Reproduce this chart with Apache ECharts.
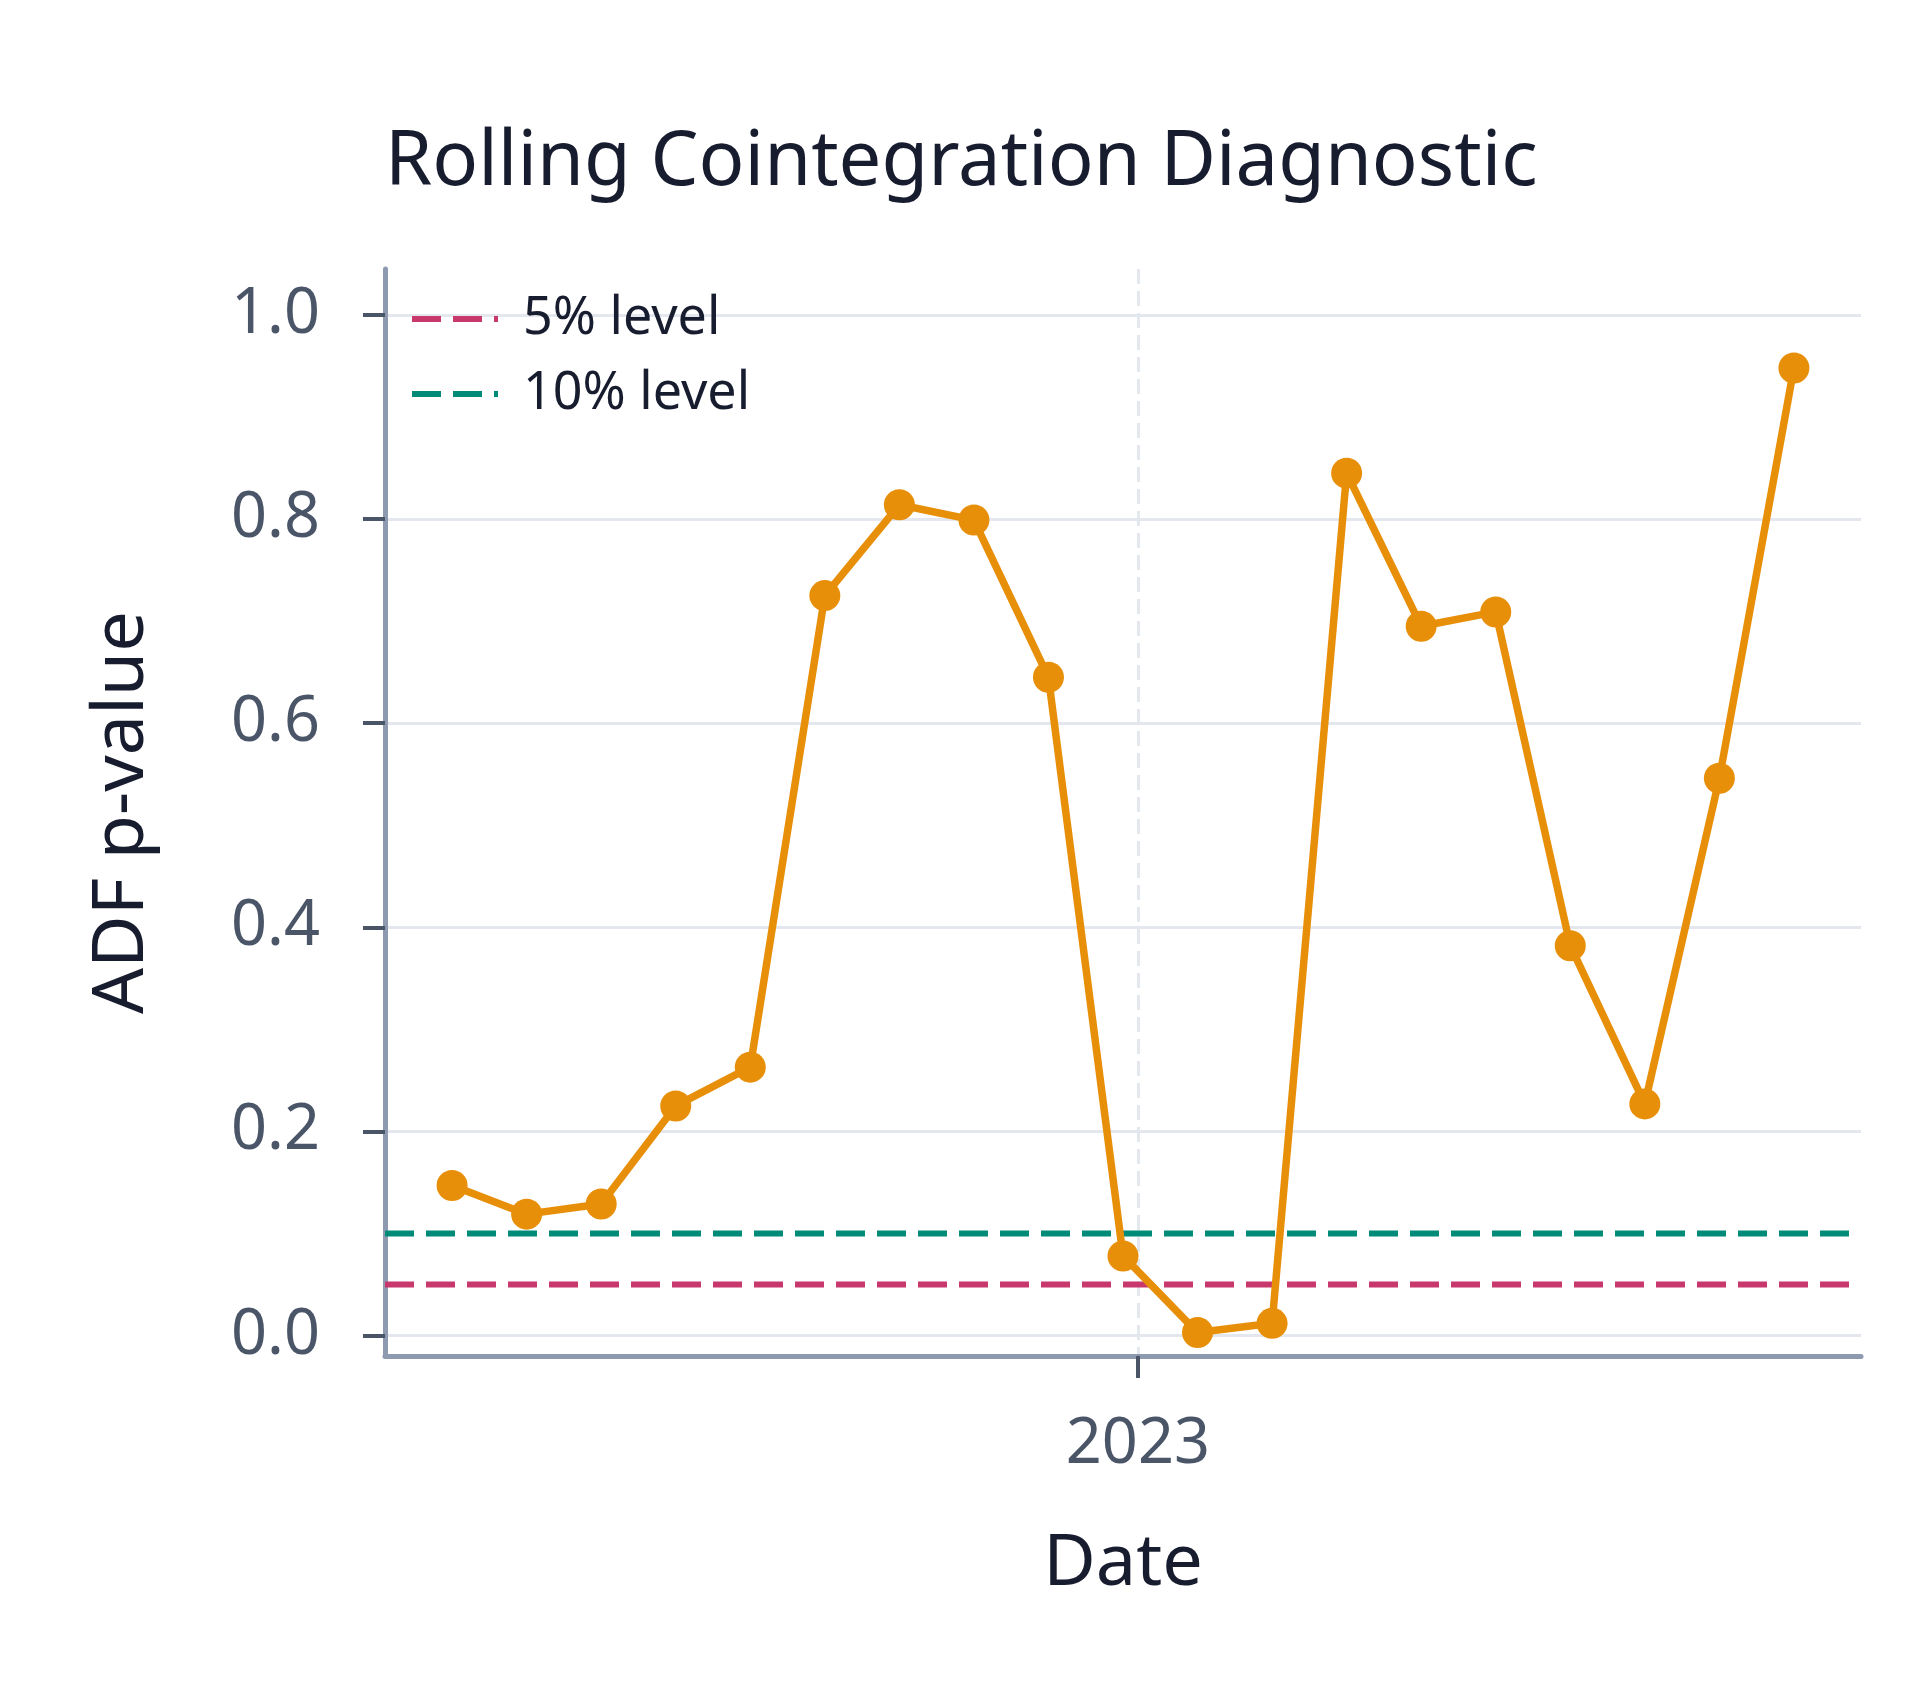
<!DOCTYPE html>
<html>
<head>
<meta charset="UTF-8">
<title>Rolling Cointegration Diagnostic</title>
<script src="https://cdn.jsdelivr.net/npm/echarts@6/dist/echarts.min.js"></script>
<style>
  html, body { margin: 0; padding: 0; background: #ffffff; }
  #chart { width: 1920px; height: 1694px; }
</style>
</head>
<body>
<div id="chart"></div>
<script>
// window end dates of the rolling test
var dates = ['2022-03-31', '2022-04-30', '2022-05-30', '2022-06-29', '2022-07-29',
  '2022-08-28', '2022-09-27', '2022-10-27', '2022-11-26', '2022-12-26',
  '2023-01-25', '2023-02-24', '2023-03-26', '2023-04-25', '2023-05-25',
  '2023-06-24', '2023-07-24', '2023-08-23', '2023-09-22'];
// ADF p-values
var pValues = [0.147, 0.119, 0.129, 0.225, 0.263, 0.725, 0.814, 0.799, 0.645, 0.078,
  0.003, 0.012, 0.845, 0.695, 0.709, 0.382, 0.227, 0.546, 0.948];
var xRange = ['2022-03-04', '2023-10-19'];
var levels5 = [0.05, 0.05];
var levels10 = [0.10, 0.10];
var yTicks = [0, 0.2, 0.4, 0.6, 0.8, 1.0];
var xTicks = ['2023-01-01'];

var font = 'Noto Sans';
// dashed legend swatch (29 on, 12 off)
var dashIcon = 'path://M0 0h29v6h-29z M41 0h29v6h-29z M82 0h4v6h-4z';

function ts(d) { return +echarts.number.parseDate(d); }
var xTickValues = xTicks.map(ts);

function pairs(xs, ys) {
  return xs.map(function (x, i) { return [ts(x), ys[i]]; });
}

var chart = echarts.init(document.getElementById('chart'), null, { renderer: 'canvas' });
var option = {
  animation: false,
  backgroundColor: '#ffffff',
  textStyle: { fontFamily: font },
  title: {
    text: 'Rolling Cointegration Diagnostic',
    left: 380,
    top: 120,
    textStyle: { fontFamily: font, fontSize: 76, fontWeight: 'normal', color: '#171c2e' }
  },
  legend: {
    orient: 'vertical',
    left: 407,
    top: 288,
    itemWidth: 86,
    itemHeight: 6,
    itemGap: 23,
    data: [
      { name: '5% level', icon: dashIcon },
      { name: '10% level', icon: dashIcon }
    ],
    textStyle: { fontFamily: font, fontSize: 52, color: '#171c2e', padding: [0, 0, 0, 20] }
  },
  grid: { left: 385, right: 59, top: 269, bottom: 338, containLabel: false },
  xAxis: {
    type: 'value',
    min: ts(xRange[0]),
    max: ts(xRange[1]),
    scale: true,
    name: 'Date',
    nameLocation: 'middle',
    nameGap: 172,
    nameTextStyle: { fontFamily: font, fontSize: 72, color: '#171c2e' },
    axisLine: { show: true, onZero: false, lineStyle: { color: '#8d9ab0', width: 5 } },
    axisTick: { show: true, length: 22, customValues: xTickValues, lineStyle: { color: '#4a5568', width: 4 } },
    axisLabel: {
      margin: 58,
      fontFamily: font,
      fontSize: 63,
      color: '#4a5568',
      customValues: xTickValues,
      formatter: function (v) { return String(new Date(v).getFullYear()); }
    },
    splitLine: {
      show: true,
      customValues: xTickValues,
      lineStyle: { color: '#e3e8ef', width: 3, type: [15, 7] }
    }
  },
  yAxis: {
    type: 'value',
    min: -0.02,
    max: 1.045,
    name: 'ADF p-value',
    nameLocation: 'middle',
    nameGap: 227,
    nameTextStyle: { fontFamily: font, fontSize: 72, color: '#171c2e' },
    axisLine: { show: true, lineStyle: { color: '#8d9ab0', width: 5 } },
    axisTick: { show: true, length: 22, customValues: yTicks, lineStyle: { color: '#4a5568', width: 4 } },
    axisLabel: {
      margin: 65,
      fontFamily: font,
      fontSize: 63,
      color: '#4a5568',
      customValues: yTicks,
      formatter: function (v) { return v.toFixed(1); }
    },
    splitLine: {
      show: true,
      customValues: yTicks,
      lineStyle: { color: '#e4e8ee', width: 3 }
    }
  },
  series: [
    {
      name: '5% level',
      type: 'line',
      data: pairs(xRange, levels5),
      symbol: 'none',
      z: 2,
      color: '#c8386c',
      lineStyle: { color: '#c8386c', width: 6, type: [29, 12] }
    },
    {
      name: '10% level',
      type: 'line',
      data: pairs(xRange, levels10),
      symbol: 'none',
      z: 2,
      color: '#008a78',
      lineStyle: { color: '#008a78', width: 6, type: [29, 12] }
    },
    {
      name: 'ADF p-value',
      type: 'line',
      data: pairs(dates, pValues),
      symbol: 'circle',
      symbolSize: 31,
      z: 5,
      color: '#e88f0a',
      lineStyle: { color: '#e88f0a', width: 7.5 },
      itemStyle: { color: '#e88f0a' }
    }
  ]
};
chart.setOption(option);
</script>
</body>
</html>
